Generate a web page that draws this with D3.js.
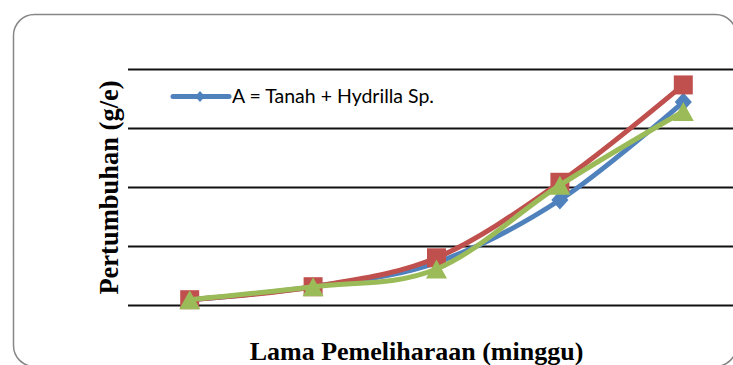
<!DOCTYPE html>
<html>
<head>
<meta charset="utf-8">
<script src="https://cdn.jsdelivr.net/npm/d3@7"></script>
<style>
  html, body { margin: 0; padding: 0; background: #fff; overflow: hidden; }
  svg { display: block; }
</style>
</head>
<body>
<svg id="chart" width="733" height="365"></svg>
<script>
// Weeks of rearing (categories along the x axis)
const weeks = ["1", "2", "3", "4", "5"];
// Gridline levels on the growth axis
const yTicks = [0, 1, 2, 3, 4];
// Growth per treatment
const seriesA = [0.09, 0.31, 0.72, 1.78, 3.44];
const seriesB = [0.09, 0.31, 0.80, 2.08, 3.73];
const seriesC = [0.09, 0.31, 0.61, 2.03, 3.28];
const legendLabel = "A = Tanah + Hydrilla Sp.";
const xTitle = "Lama Pemeliharaan (minggu)";
const yTitle = "Pertumbuhan (g/e)";

const series = [
  { values: seriesA, color: "#4F81BD", marker: "diamond" },
  { values: seriesB, color: "#C0504D", marker: "square" },
  { values: seriesC, color: "#9BBB59", marker: "triangle" }
];

const svg = d3.select("#chart");

// Outer rounded frame
svg.append("rect")
  .attr("x", 13.5).attr("y", 14.5)
  .attr("width", 723).attr("height", 352)
  .attr("rx", 21).attr("ry", 21)
  .attr("fill", "#fff")
  .attr("stroke", "#868686")
  .attr("stroke-width", 1.5);

const plot = { left: 128, right: 745, top: 69, bottom: 305 };

const x = d3.scaleBand().domain(weeks).range([plot.left, plot.right]);
const y = d3.scaleLinear().domain([0, 4]).range([plot.bottom, plot.top]);
const cx = d => x(d) + x.bandwidth() / 2;

// Horizontal gridlines through the y axis generator
const yAxis = d3.axisLeft(y).tickValues(yTicks)
  .tickSize(-(plot.right - plot.left)).tickFormat("");
const gy = svg.append("g")
  .attr("transform", `translate(${plot.left},0)`)
  .call(yAxis);
gy.select(".domain").remove();
gy.selectAll(".tick line")
  .attr("stroke", "#111")
  .attr("stroke-width", 2);

// Marker shapes, centred on their bounding box
function markerPath(type, s) {
  const h = s / 2;
  if (type === "square") return `M${-h},${-h}H${h}V${h}H${-h}Z`;
  if (type === "diamond") return `M0,${-h}L${h * 0.9},0L0,${h}L${-h * 0.9},0Z`;
  return `M0,${-h * 0.95}L${h * 1.05},${h * 0.95}L${-h * 1.05},${h * 0.95}Z`;
}
const markerSize = { square: 19, diamond: 19, triangle: 20 };

const line = d3.line()
  .x((d, i) => cx(weeks[i]))
  .y(d => y(d))
  .curve(d3.curveCardinal.tension(0));

series.forEach(s => {
  const g = svg.append("g");
  g.append("path")
    .datum(s.values)
    .attr("d", line)
    .attr("fill", "none")
    .attr("stroke", s.color)
    .attr("stroke-width", 5)
    .attr("stroke-linejoin", "round")
    .attr("stroke-linecap", "round");
  g.selectAll("path.mk")
    .data(s.values)
    .join("path")
    .attr("class", "mk")
    .attr("transform", (d, i) => `translate(${cx(weeks[i])},${y(d)})`)
    .attr("d", markerPath(s.marker, markerSize[s.marker]))
    .attr("fill", s.color);
});

// Legend (first series only)
const lg = svg.append("g").attr("transform", "translate(173,96.5)");
lg.append("line")
  .attr("x1", 0).attr("x2", 56)
  .attr("stroke", series[0].color)
  .attr("stroke-width", 5)
  .attr("stroke-linecap", "round");
lg.append("path")
  .attr("transform", "translate(27,0)")
  .attr("d", markerPath("diamond", 11))
  .attr("fill", series[0].color);
lg.append("text")
  .attr("x", 59).attr("y", 6.5)
  .attr("font-family", "Lato, 'Liberation Sans', sans-serif")
  .attr("font-size", 19.5)
  .attr("fill", "#000")
  .text(legendLabel);

// Axis titles
svg.append("text")
  .attr("x", 416.5).attr("y", 359.5)
  .attr("text-anchor", "middle")
  .attr("font-family", "'Liberation Serif', 'Times New Roman', serif")
  .attr("font-weight", "bold")
  .attr("font-size", 26)
  .text(xTitle);

svg.append("text")
  .attr("transform", "translate(118,187.5) rotate(-90)")
  .attr("text-anchor", "middle")
  .attr("font-family", "'Liberation Serif', 'Times New Roman', serif")
  .attr("font-weight", "bold")
  .attr("font-size", 26.5)
  .text(yTitle);
</script>
</body>
</html>
